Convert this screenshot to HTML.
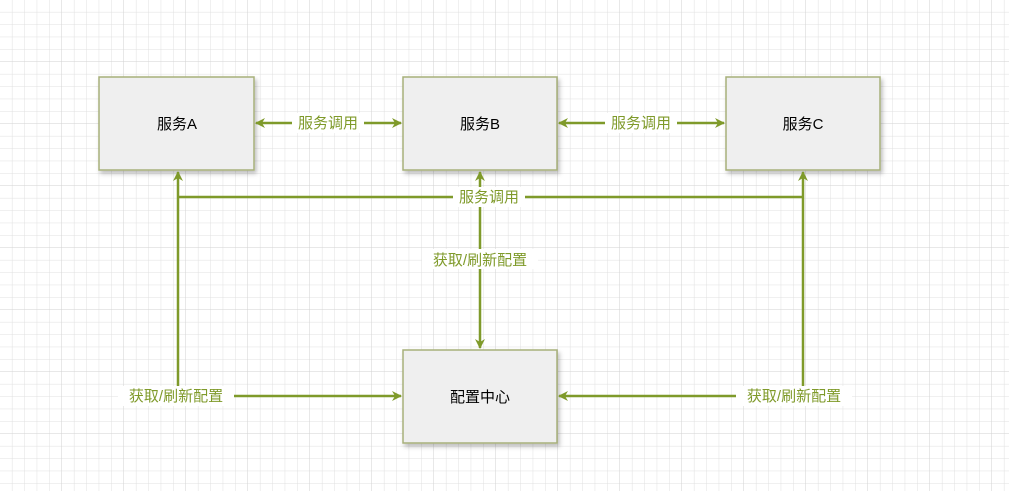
<!DOCTYPE html>
<html><head><meta charset="utf-8"><style>
html,body{margin:0;padding:0;background:#fff}
svg text{font-family:"Liberation Sans","Noto Sans CJK SC",sans-serif}
</style></head><body>
<svg width="1009" height="491" xmlns="http://www.w3.org/2000/svg">
<defs>
<pattern id="g" width="12.4" height="12.4" patternUnits="userSpaceOnUse">
<path d="M12.4 0V12.4M0 12.4H12.4" fill="none" stroke="#e0e0e0" stroke-width="1"/>
</pattern>
<pattern id="G" width="62" height="62" patternUnits="userSpaceOnUse">
<path d="M62 0V62M0 62H62" fill="none" stroke="#d2d2d2" stroke-width="1"/>
</pattern>
<marker id="ar" markerWidth="10" markerHeight="10" refX="9" refY="5" orient="auto-start-reverse" markerUnits="userSpaceOnUse">
<path d="M0 0L10 5L0 10L3 5Z" fill="#7f9a2a"/>
</marker>
<filter id="sh" x="-10%" y="-10%" width="130%" height="130%"><feDropShadow dx="2" dy="3" stdDeviation="2" flood-color="#000" flood-opacity="0.25"/></filter>
</defs>
<rect width="1009" height="491" fill="url(#g)"/>
<rect width="1009" height="491" fill="url(#G)"/>
<g fill="#efefef" stroke="#a7b07a" stroke-width="1.5" filter="url(#sh)">
<rect x="99" y="77" width="155" height="93"/>
<rect x="403" y="77" width="154" height="93"/>
<rect x="726" y="77" width="154" height="93"/>
<rect x="403" y="350" width="154" height="93"/>
</g>
<g font-size="15" fill="#000" text-anchor="middle">
<text x="177" y="129">服务A</text>
<text x="480" y="129">服务B</text>
<text x="803" y="129">服务C</text>
<text x="480" y="402">配置中心</text>
</g>
<g stroke="#7f9a2a" stroke-width="2.5" fill="none">
<line x1="256" y1="123" x2="401" y2="123" marker-start="url(#ar)" marker-end="url(#ar)"/>
<line x1="559" y1="123" x2="724" y2="123" marker-start="url(#ar)" marker-end="url(#ar)"/>
<line x1="480" y1="172" x2="480" y2="348" marker-start="url(#ar)" marker-end="url(#ar)"/>
<path d="M178 172V396H401" marker-start="url(#ar)" marker-end="url(#ar)"/>
<path d="M803 172V396H559" marker-start="url(#ar)" marker-end="url(#ar)"/>
<line x1="178" y1="197" x2="803" y2="197"/>
</g>
<g font-size="15" fill="#7f9a2a" text-anchor="middle">
<rect x="292" y="113" width="72" height="20" fill="#fff"/>
<text x="328" y="128">服务调用</text>
<rect x="605" y="113" width="72" height="20" fill="#fff"/>
<text x="641" y="128">服务调用</text>
<rect x="453" y="187" width="72" height="20" fill="#fff"/>
<text x="489" y="202">服务调用</text>
<rect x="422" y="249" width="116" height="20" fill="#fff"/>
<text x="480" y="265">获取/刷新配置</text>
<rect x="118" y="386" width="116" height="20" fill="#fff"/>
<text x="176" y="401">获取/刷新配置</text>
<rect x="736" y="386" width="116" height="20" fill="#fff"/>
<text x="794" y="401">获取/刷新配置</text>
</g>
</svg>
</body></html>
